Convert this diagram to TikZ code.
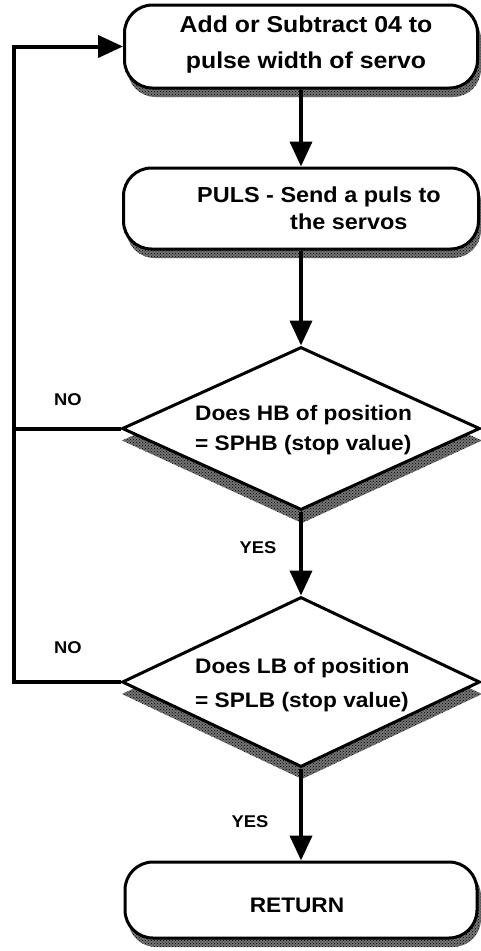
\documentclass[tikz,border=0pt]{standalone}
\usepackage{fontspec}
\newfontfamily\chartfont[FakeStretch=1.08]{Liberation Sans}
\usetikzlibrary{arrows.meta,shapes.geometric,patterns}

\begin{document}
\begin{tikzpicture}[x=1pt,y=-1pt,
  shadowfill/.style={fill=black!55,postaction={pattern=crosshatch dots,pattern color=black}},
  procbox/.style={draw,line width=3pt,fill=white,rounded corners=28pt,inner sep=0pt},
  decision/.style={draw,diamond,line width=3pt,fill=white,inner sep=0pt},
  txt/.style={font=\chartfont\bfseries\fontsize{21}{30}\selectfont,inner sep=0pt},
  tag/.style={font=\chartfont\bfseries\fontsize{17}{17}\selectfont,inner sep=0pt},
  line/.style={line width=4pt,line join=miter},
  flow/.style={line,-{Triangle[length=25pt,width=22pt]}}]
  \useasboundingbox (0,0) rectangle (481,951);

  % shadows, drawn first so the shapes cover them
  \path[shadowfill,rounded corners=28pt] (127.5,11) rectangle (481,97);
  \path[shadowfill,rounded corners=28pt] (126.5,174) rectangle (481,258);
  \path[shadowfill,rounded corners=28pt] (128,868) rectangle (481,947);
  \path[shadowfill] (302,359) -- (482,440.5) -- (302,523) -- (122,440.5) -- cycle;
  \path[shadowfill] (302,609) -- (482,694) -- (302,779) -- (122,694) -- cycle;

  % process boxes and decisions
  \node[procbox,minimum width=353pt,minimum height=83pt] (b1) at (301,46.5) {};
  \node[procbox,minimum width=355pt,minimum height=81pt] (b2) at (301,208.5) {};
  \node[decision,minimum width=358pt,minimum height=163pt] (d1) at (301,428.5) {};
  \node[decision,minimum width=358pt,minimum height=170pt] (d2) at (301,682) {};
  \node[procbox,minimum width=352pt,minimum height=76pt] (ret) at (301,900) {};

  % texts
  \node[txt,align=center,font=\chartfont\bfseries\fontsize{23}{36}\selectfont] (t1) at (306,45)
    {Add or Subtract 04 to\\pulse width of servo};
  \node[txt,align=left,anchor=west,font=\chartfont\bfseries\fontsize{21.7}{27}\selectfont] (t2) at (197,208.5)
    {PULS - Send a puls to\\\hspace*{93pt}the servos};
  \node[txt,align=left,anchor=west] (t3) at (195,430)
    {Does HB of position\\= SPHB (stop value)};
  \node[txt,align=left,anchor=west,font=\chartfont\bfseries\fontsize{21}{34}\selectfont] (t4) at (195,685)
    {Does LB of position\\= SPLB (stop value)};
  \node[txt] (t5) at (297,905) {RETURN};

  % branch labels
  \node[tag] (no1) at (68,400) {NO};
  \node[tag] (no2) at (68,648) {NO};
  \node[tag] (yes1) at (258,548) {YES};
  \node[tag] (yes2) at (250,822) {YES};

  % connectors
  \coordinate (loop) at (14,46.5);
  \draw[flow] (b1.south) -- (b2.north);
  \draw[flow] (b2.south) -- (d1.north);
  \draw[flow] (d1.south) -- (d2.north);
  \draw[flow] (d2.south) -- (ret.north);
  \draw[flow] (d2.west) -| (loop) -- (b1.west);
  \draw[line] (d1.west) -- (d1.west -| loop);
\end{tikzpicture}
\end{document}
